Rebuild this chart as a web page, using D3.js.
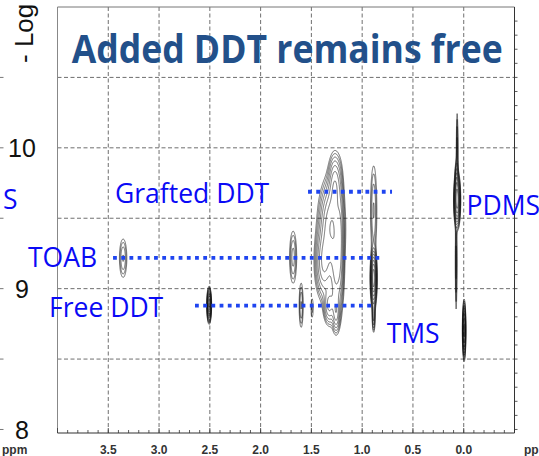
<!DOCTYPE html>
<html>
<head>
<meta charset="utf-8">
<script src="https://cdn.jsdelivr.net/npm/d3@7"></script>
<style>
  html, body { margin: 0; padding: 0; background: #fff; overflow: hidden; }
  svg { display: block; }
</style>
</head>
<body>
<svg id="chart" width="539" height="456"></svg>
<script>
// Chemical shift axis (ppm) and diffusion axis (-log D)
const shiftTicks = [3.5, 3.0, 2.5, 2.0, 1.5, 1.0, 0.5, 0.0];
const shiftTickLabels = ["3.5", "3.0", "2.5", "2.0", "1.5", "1.0", "0.5", "0.0"];
const logDTicks = [8, 9, 10];
const logDTickLabels = ["8", "9", "10"];
const logDGrid = [8.5, 9, 9.5, 10, 10.5];

// Cross peaks: shift (ppm), -log D, shift spread (ppm), diffusion spread, intensity
const peakShift     = [3.355, 2.508, 1.681, 1.602, 1.494, 1.268, 1.307, 1.376, 1.258, 1.327, 1.258, 1.218, 0.888, 0.888, 0.888, 0.066, 0.071, 0.066, 0.076, -0.003];
const peakLogD      = [9.218, 8.884, 9.225, 8.884, 8.863, 9.736, 9.452, 9.189, 9.132, 8.884, 8.834, 9.345, 9.558, 9.076, 8.813, 9.629, 9.757, 9.985, 9.189, 8.706];
const peakShiftSd   = [0.023, 0.009, 0.021, 0.0125, 0.0098, 0.0345, 0.059, 0.0443, 0.0345, 0.0295, 0.0197, 0.0197, 0.0197, 0.0128, 0.0079, 0.0128, 0.0079, 0.0049, 0.0049, 0.0069];
const peakLogDSd    = [0.086, 0.050, 0.111, 0.099, 0.062, 0.114, 0.156, 0.128, 0.178, 0.071, 0.071, 0.213, 0.199, 0.085, 0.064, 0.078, 0.071, 0.156, 0.199, 0.085];
const peakIntensity = [0.35, 4.0, 0.4, 0.35, 0.17, 1.0, 1.6, 1.2, 1.2, 0.8, 0.8, 0.8, 0.35, 5.0, 0.6, 5.0, 1.2, 0.4, 0.4, 3.0];

// Dotted guides marking the diffusion level of each species
const guideNames = ["Grafted DDT", "TOAB", "Free DDT"];
const guideLogD  = [9.688, 9.218, 8.879];
const guideFrom  = [1.533, 3.453, 2.646];
const guideTo    = [0.706, 0.824, 0.874];

const signalNames = ["PDMS", "TMS"];
const titleText = "Added DDT remains free";
const unitLabel = "ppm";
const yAxisTitle = "- Log";

const svg = d3.select("#chart");
const plotLeft = 57.5, plotRight = 514.5, plotTop = 7, plotBottom = 433;

const x = d3.scaleLinear().domain([4.0, -0.5]).range([plotLeft, plotRight]);
const y = d3.scaleLinear().domain([7.975, 11.0]).range([plotBottom, plotTop]);

const gridColor = "#4a4a4a";

// dashed grid
const gridG = svg.append("g");
gridG.selectAll("line.v").data(shiftTicks).join("line").attr("class", "v")
  .attr("x1", d => x(d)).attr("x2", d => x(d))
  .attr("y1", plotTop).attr("y2", plotBottom)
  .attr("stroke", gridColor).attr("stroke-width", 0.8)
  .attr("stroke-dasharray", "4 2.5");
gridG.selectAll("line.h").data(logDGrid).join("line").attr("class", "h")
  .attr("x1", plotLeft).attr("x2", plotRight)
  .attr("y1", d => y(d)).attr("y2", d => y(d))
  .attr("stroke", gridColor).attr("stroke-width", 0.8)
  .attr("stroke-dasharray", "4 2.5");

// frame
svg.append("line").attr("x1", plotLeft).attr("x2", plotLeft).attr("y1", plotTop).attr("y2", plotBottom)
  .attr("stroke", "#888").attr("stroke-width", 1);
svg.append("line").attr("x1", plotLeft).attr("x2", plotRight).attr("y1", plotTop).attr("y2", plotTop)
  .attr("stroke", "#777").attr("stroke-width", 1);
svg.append("line").attr("x1", plotRight).attr("x2", plotRight).attr("y1", plotTop).attr("y2", plotBottom)
  .attr("stroke", "#333").attr("stroke-width", 1);
svg.append("line").attr("x1", plotLeft).attr("x2", plotRight).attr("y1", plotBottom).attr("y2", plotBottom)
  .attr("stroke", "#333").attr("stroke-width", 1);

// bottom axis ticks (every 0.1 ppm, pointing inward)
const minorShift = d3.range(-5, 41).map(k => k / 10);
svg.append("g").selectAll("line").data(minorShift).join("line")
  .attr("x1", d => x(d)).attr("x2", d => x(d))
  .attr("y1", plotBottom)
  .attr("y2", d => Math.abs(d * 2 - Math.round(d * 2)) < 1e-6 ? plotBottom - 5 : plotBottom - 3)
  .attr("stroke", "#333").attr("stroke-width", 0.8);

// right axis ticks (every 0.1, pointing outward)
const minorLogD = d3.range(80, 110).map(k => k / 10);
svg.append("g").selectAll("line").data(minorLogD).join("line")
  .attr("x1", plotRight).attr("x2", plotRight + 3)
  .attr("y1", d => y(d)).attr("y2", d => y(d))
  .attr("stroke", "#333").attr("stroke-width", 0.8);

// left axis ticks
svg.append("g").selectAll("line").data([8, 8.5, 9, 9.5, 10, 10.5]).join("line")
  .attr("x1", 0).attr("x2", 3.5)
  .attr("y1", d => y(d)).attr("y2", d => y(d))
  .attr("stroke", "#777").attr("stroke-width", 1);

// shift tick labels
const axisFont = "Liberation Sans, Arial, sans-serif";
svg.append("g").selectAll("text").data(shiftTicks).join("text")
  .attr("x", d => x(d)).attr("y", 453.5)
  .attr("text-anchor", "middle")
  .attr("font-family", axisFont)
  .attr("font-size", 12).attr("font-weight", "bold").attr("fill", "#333")
  .text((d, i) => shiftTickLabels[i]);
svg.append("text").attr("x", 2).attr("y", 453.5)
  .attr("font-family", axisFont)
  .attr("font-size", 12).attr("font-weight", "bold").attr("fill", "#333").text(unitLabel);
svg.append("text").attr("x", 524).attr("y", 453.5)
  .attr("font-family", axisFont)
  .attr("font-size", 12).attr("font-weight", "bold").attr("fill", "#333").text(unitLabel);

// -log D tick labels
svg.append("g").selectAll("text").data(logDTicks).join("text")
  .attr("x", 22).attr("y", d => y(d) + 9.3)
  .attr("text-anchor", "middle")
  .attr("font-family", axisFont)
  .attr("font-size", 25).attr("fill", "#111")
  .text((d, i) => logDTickLabels[i]);
svg.append("text")
  .attr("transform", "translate(33,63) rotate(-90)")
  .attr("font-family", axisFont)
  .attr("font-size", 26).attr("fill", "#111")
  .text(yAxisTitle);

// contour map of the cross peaks
const gx0 = 90, gx1 = 490, gy0 = 100, gy1 = 380, stepX = 0.25, stepY = 0.5;
const nx = Math.round((gx1 - gx0) / stepX), ny = Math.round((gy1 - gy0) / stepY);
const field = new Float64Array(nx * ny);
peakShift.forEach((p, k) => {
  const cx = x(p), cy = y(peakLogD[k]);
  const sdx = Math.abs(x(p + peakShiftSd[k]) - cx);
  const sdy = Math.abs(y(peakLogD[k] + peakLogDSd[k]) - cy);
  const amp = peakIntensity[k];
  const i0 = Math.max(0, Math.floor((cx - 5 * sdx - gx0) / stepX));
  const i1 = Math.min(nx - 1, Math.ceil((cx + 5 * sdx - gx0) / stepX));
  const j0 = Math.max(0, Math.floor((cy - 5 * sdy - gy0) / stepY));
  const j1 = Math.min(ny - 1, Math.ceil((cy + 5 * sdy - gy0) / stepY));
  for (let j = j0; j <= j1; j++) {
    const dy = (gy0 + j * stepY - cy) / sdy;
    for (let i = i0; i <= i1; i++) {
      const dx = (gx0 + i * stepX - cx) / sdx;
      field[j * nx + i] += amp * Math.exp(-0.5 * (dx * dx + dy * dy));
    }
  }
});
const levels = d3.range(12).map(k => 0.1 * Math.pow(1.5, k));
const contours = d3.contours().size([nx, ny]).thresholds(levels)(field);
const toScreen = d3.geoTransform({
  point(px, py) { this.stream.point(gx0 + px * stepX, gy0 + py * stepY); }
});
svg.append("g").selectAll("path").data(contours).join("path")
  .attr("d", d3.geoPath(toScreen))
  .attr("fill", "none").attr("stroke", "#111").attr("stroke-width", 0.6);

// dotted guides
svg.append("g").selectAll("line").data(guideLogD).join("line")
  .attr("x1", (d, i) => x(guideFrom[i])).attr("x2", (d, i) => x(guideTo[i]))
  .attr("y1", d => y(d)).attr("y2", d => y(d))
  .attr("stroke", "#1f45f0").attr("stroke-width", 3.8)
  .attr("stroke-dasharray", "3.8 4.4");

// species labels
const labelFont = "Open Sans, Liberation Sans, sans-serif";
const labelColor = "#0a0af5";
const labelLayout = [
  { text: guideNames[0], x: 115, y: 203.3 },
  { text: guideNames[1], x: 28, y: 266.7 },
  { text: guideNames[2], x: 49, y: 316.7 },
  { text: signalNames[0], x: 466.5, y: 215 },
  { text: signalNames[1], x: 386.7, y: 343 },
  { text: "S", x: 3, y: 209.3 }
];
svg.append("g").selectAll("text").data(labelLayout).join("text")
  .attr("x", d => d.x).attr("y", d => d.y)
  .attr("font-family", labelFont).attr("font-size", 26.5)
  .attr("fill", labelColor)
  .text(d => d.text);

// title
svg.append("text")
  .attr("x", 71.7).attr("y", 62.5)
  .attr("font-family", "Open Sans, Liberation Sans, sans-serif")
  .attr("font-weight", "bold").attr("font-size", 38.5)
  .attr("fill", "#22508a")
  .attr("textLength", 431).attr("lengthAdjust", "spacingAndGlyphs")
  .text(titleText);
</script>
</body>
</html>
